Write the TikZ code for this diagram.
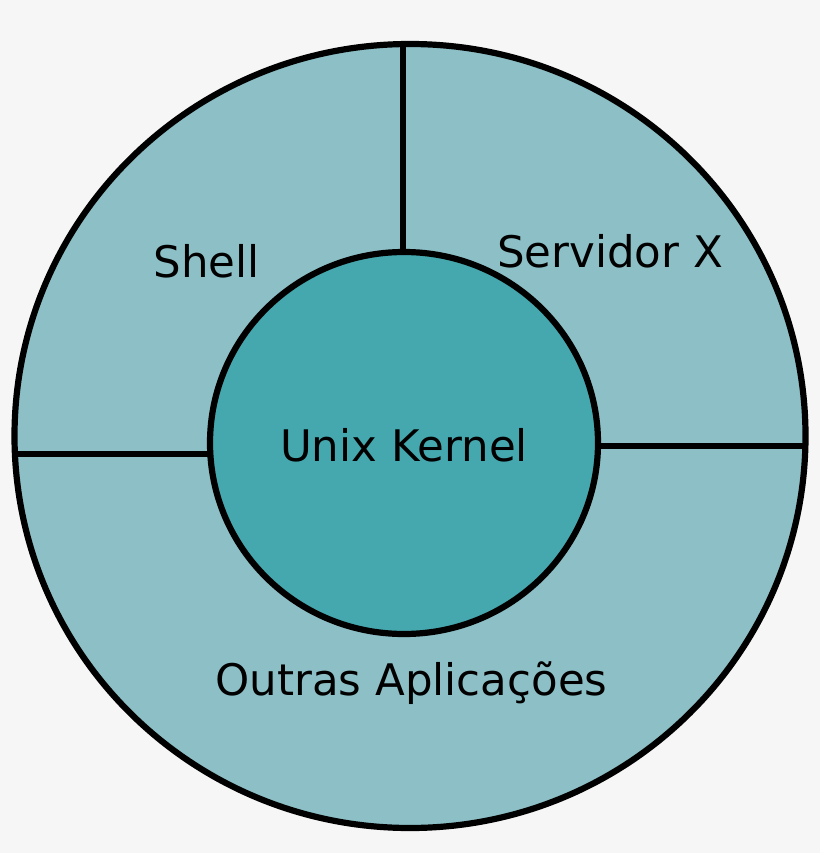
\documentclass[tikz,border=0pt]{standalone}
\usepackage{fontspec}
\setmainfont{DejaVu Sans}
\definecolor{bgc}{HTML}{F6F6F6}
\definecolor{ringc}{HTML}{8CC0C6}
\definecolor{corec}{HTML}{45A8AE}
\begin{document}
\begin{tikzpicture}[x=1pt,y=-1pt,
  lbl/.style={anchor=base,inner sep=0pt,font=\fontsize{43.5}{52}\selectfont},
  edge/.style={line width=6.2pt,draw=black}]
\fill[bgc] (0,0) rectangle (820,853);
\useasboundingbox (0,0) rectangle (820,853);
% outer ring
\path[edge,fill=ringc] (410,436) ellipse [x radius=395.5, y radius=392];
\coordinate (vt) at (403,44);
\coordinate (vb) at (403,255);
\coordinate (lo) at (14.5,453.7);
\coordinate (li) at (212,453.7);
\coordinate (ri) at (596,446);
\coordinate (ro) at (806,446);
\draw[edge] (vt) -- (vb);
\draw[edge] (lo) -- (li);
\draw[edge] (ri) -- (ro);
% kernel
\path[edge,fill=corec] (404,443) ellipse [x radius=194, y radius=191];
\node[lbl] (kernel) at (404,461) {Unix Kernel};
\node[lbl] (shell) at (206.5,277) {Shell};
\node[lbl] (xserver) at (610,267) {Servidor X};
\node[lbl] (apps) at (411.5,695) {Outras Aplicações};
\end{tikzpicture}
\end{document}
